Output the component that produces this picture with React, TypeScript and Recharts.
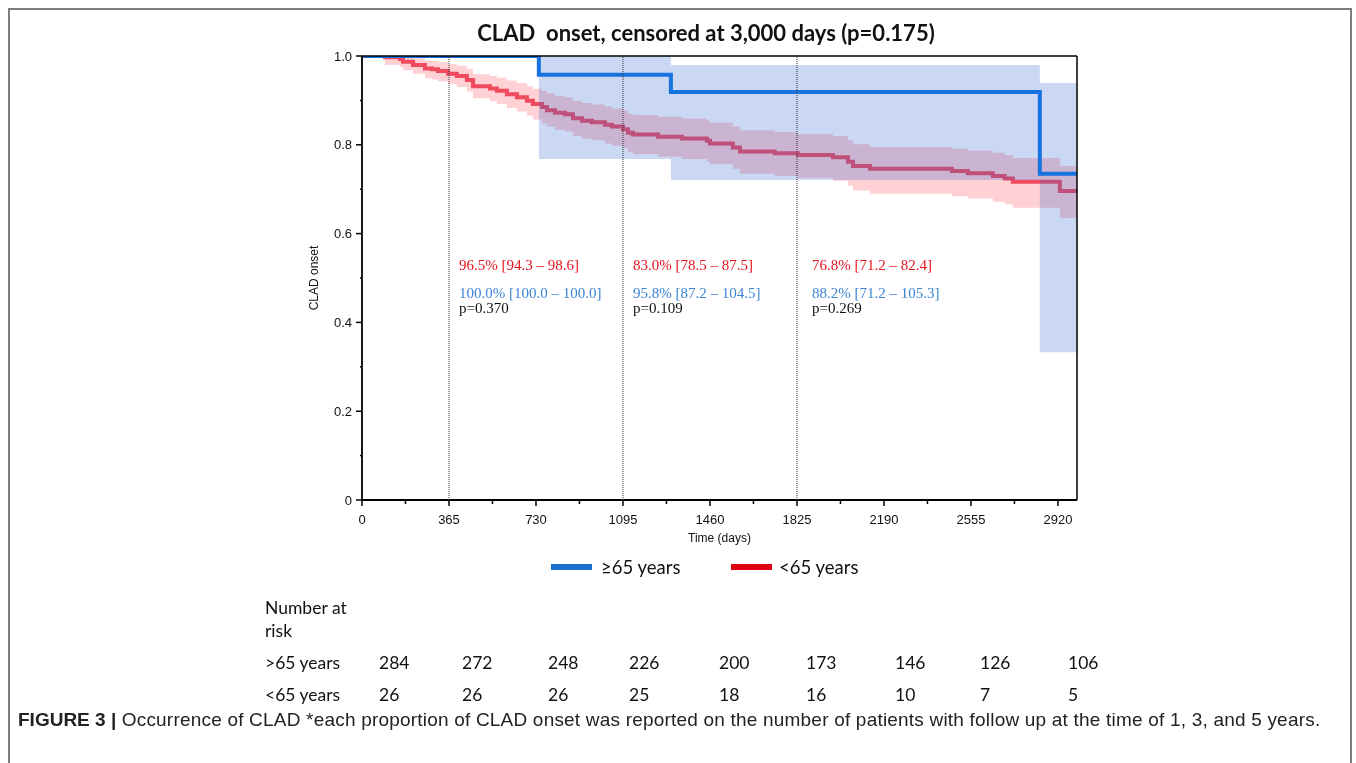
import React from "react";
import { ComposedChart, Line, Area, XAxis, YAxis, ReferenceLine } from "recharts";

// <65 years (red) Kaplan-Meier steps
const redTime = [0, 96, 159, 172, 214, 264, 294, 319, 361, 398, 440, 466, 537, 566, 608, 650, 692, 717, 755, 776, 810, 852, 885, 923, 965, 1019, 1049, 1095, 1116, 1137, 1242, 1342, 1447, 1460, 1556, 1586, 1732, 1829, 1976, 2039, 2060, 2131, 2475, 2542, 2647, 2697, 2731, 2928, 3000];
const redSurv = [1.0, 0.997, 0.993, 0.987, 0.98, 0.972, 0.97, 0.966, 0.96, 0.955, 0.946, 0.932, 0.927, 0.922, 0.914, 0.907, 0.899, 0.892, 0.885, 0.878, 0.872, 0.869, 0.86, 0.854, 0.851, 0.845, 0.841, 0.835, 0.827, 0.823, 0.818, 0.814, 0.809, 0.803, 0.794, 0.785, 0.781, 0.777, 0.772, 0.762, 0.752, 0.746, 0.741, 0.736, 0.73, 0.724, 0.717, 0.696, 0.696];
const redLo = [1.0, 0.98, 0.975, 0.968, 0.96, 0.95, 0.947, 0.943, 0.937, 0.93, 0.92, 0.905, 0.898, 0.892, 0.883, 0.875, 0.866, 0.857, 0.848, 0.841, 0.834, 0.83, 0.82, 0.814, 0.81, 0.803, 0.798, 0.792, 0.783, 0.779, 0.773, 0.768, 0.762, 0.756, 0.746, 0.735, 0.73, 0.725, 0.719, 0.708, 0.697, 0.69, 0.684, 0.679, 0.672, 0.666, 0.658, 0.635, 0.635];
const redHi = [1.0, 1.0, 1.0, 1.0, 0.995, 0.99, 0.989, 0.986, 0.982, 0.978, 0.971, 0.959, 0.955, 0.951, 0.945, 0.939, 0.932, 0.926, 0.922, 0.916, 0.91, 0.907, 0.899, 0.894, 0.891, 0.886, 0.882, 0.877, 0.87, 0.867, 0.863, 0.859, 0.855, 0.85, 0.841, 0.833, 0.829, 0.824, 0.82, 0.81, 0.801, 0.795, 0.791, 0.787, 0.782, 0.777, 0.77, 0.752, 0.752];

// >=65 years (blue)
const blueTime = [0, 742, 1296, 2844, 3000];
const blueSurv = [1.0, 0.958, 0.919, 0.735, 0.735];
const blueLo = [1.0, 0.768, 0.721, 0.333, 0.333];
const blueHi = [1.0, 1.0, 0.98, 0.939, 0.939];

const xTicks = [0, 182.5, 365, 547.5, 730, 912.5, 1095, 1277.5, 1460, 1642.5, 1825, 2007.5, 2190, 2372.5, 2555, 2737.5, 2920];
const yTicks = [0, 0.1, 0.2, 0.3, 0.4, 0.5, 0.6, 0.7, 0.8, 0.9, 1.0];

const annotDays = [365, 1095, 1825];
const annotRed = ["96.5% [94.3 – 98.6]", "83.0% [78.5 – 87.5]", "76.8% [71.2 – 82.4]"];
const annotBlue = ["100.0% [100.0 – 100.0]", "95.8% [87.2 – 104.5]", "88.2% [71.2 – 105.3]"];
const annotP = ["p=0.370", "p=0.109", "p=0.269"];

const riskGroups = [">65 years", "<65 years"];
const riskOver = [284, 272, 248, 226, 200, 173, 146, 126, 106];
const riskUnder = [26, 26, 26, 25, 18, 16, 10, 7, 5];

const red = redTime.map((t, i) => ({ t, s: redSurv[i], ci: [redLo[i], redHi[i]] }));
const blue = blueTime.map((t, i) => ({ t, s: blueSurv[i], ci: [blueLo[i], blueHi[i]] }));

const TICK_SIZE = 6;
const TICK_MARGIN = 6;
const SANS = "'Liberation Sans', Arial, sans-serif";
const CAL = "Lato, 'Open Sans', sans-serif";
const riskCols = [371, 454, 540, 621, 711, 798, 887, 972, 1060];
const annotDx = [10, 10, 15];

const XTick = (props: any) => {
  const { x, y, payload } = props;
  const axisY = y - TICK_SIZE - TICK_MARGIN;
  const major = payload.value % 365 === 0;
  return (
    <g>
      <line x1={x} x2={x} y1={axisY} y2={axisY + (major ? 6 : 4)} stroke="#000" strokeWidth={1.5} />
      {major && (
        <text x={x} y={y + 3} dy="0.71em" textAnchor="middle" fontSize={13} fontFamily={SANS} fill="#111">
          {payload.value}
        </text>
      )}
    </g>
  );
};

const YTick = (props: any) => {
  const { x, y, payload } = props;
  const axisX = x + TICK_SIZE + TICK_MARGIN;
  const v = payload.value;
  const major = Math.round(v * 10) % 2 === 0;
  return (
    <g>
      <line x1={axisX} x2={axisX - (major ? 6 : 2)} y1={y} y2={y} stroke="#000" strokeWidth={1.5} />
      {major && (
        <text x={axisX - 10} y={y} dy="0.355em" textAnchor="end" fontSize={13} fontFamily={SANS} fill="#111">
          {v === 0 ? "0" : v.toFixed(1)}
        </text>
      )}
    </g>
  );
};

const AnnLabel = (props: any) => {
  const { viewBox, i } = props;
  const x = viewBox.x + annotDx[i];
  const y = viewBox.y;
  const f = { fontFamily: "'Liberation Serif', 'Times New Roman', serif", fontSize: 15 };
  return (
    <g>
      <text x={x} y={y + 214} fill="#e8141f" style={f}>{annotRed[i]}</text>
      <text x={x} y={y + 242} fill="#3d85d6" style={f}>{annotBlue[i]}</text>
      <text x={x} y={y + 257} fill="#111" style={f}>{annotP[i]}</text>
    </g>
  );
};

const rowText = { position: "absolute" as const, transform: "translateY(-50%)", fontFamily: CAL, fontSize: 17.5, color: "#111", whiteSpace: "nowrap" as const };

export default function App() {
  return (
    <div style={{ position: "relative", width: 1344, height: 747, fontFamily: SANS }}>
      <div
        style={{
          position: "fixed", left: 8, top: 8, width: 1344, height: 780, boxSizing: "border-box",
          borderTop: "2px solid #7d7d7d", borderLeft: "2px solid #7d7d7d", borderRight: "2px solid #7d7d7d",
        }}
      />
      <div
        style={{
          position: "absolute", left: 698, top: 11, transform: "translateX(-50%)", whiteSpace: "nowrap",
          fontFamily: CAL, fontWeight: 700, fontSize: 22, color: "#111",
        }}
      >
        CLAD&nbsp; onset, censored at 3,000 days (p=0.175)
      </div>
      <div
        style={{
          position: "absolute", left: 306, top: 270, transform: "translate(-50%, -50%) rotate(-90deg)",
          whiteSpace: "nowrap", fontSize: 12, color: "#111",
        }}
      >
        CLAD onset
      </div>
      <div style={{ position: "absolute", left: 0, top: 0 }}>
        <ComposedChart width={1344} height={560} margin={{ top: 48, right: 275, bottom: 18, left: 294 }}>
          <XAxis
            dataKey="t" type="number" domain={[0, 3000]} ticks={xTicks} interval={0} height={50}
            tickLine={false} tickSize={TICK_SIZE} tickMargin={TICK_MARGIN} tick={<XTick />}
            axisLine={{ stroke: "#000", strokeWidth: 1.8 }} allowDataOverflow
            label={{ value: "Time (days)", position: "insideBottom", offset: 8, fontSize: 12, fill: "#111", fontFamily: SANS }}
          />
          <YAxis
            type="number" domain={[0, 1]} ticks={yTicks} interval={0} width={60}
            tickLine={false} tickSize={TICK_SIZE} tickMargin={TICK_MARGIN} tick={<YTick />}
            axisLine={{ stroke: "#000", strokeWidth: 1.8 }} allowDataOverflow
          />
          <Area data={red} dataKey="ci" type="stepAfter" stroke="none" fill="#ff4353" fillOpacity={0.25} isAnimationActive={false} zIndex={100} />
          <Line data={red} dataKey="s" type="stepAfter" stroke="#ef4a5e" strokeWidth={4} dot={false} activeDot={false} isAnimationActive={false} zIndex={200} />
          <Area data={blue} dataKey="ci" type="stepAfter" stroke="none" fill="#2b63cf" fillOpacity={0.25} isAnimationActive={false} zIndex={300} />
          <Line data={blue} dataKey="s" type="stepAfter" stroke="#1673e0" strokeWidth={4} dot={false} activeDot={false} isAnimationActive={false} zIndex={400} />
          {annotDays.map((d, i) => (
            <ReferenceLine key={d} x={d} stroke="#333" strokeWidth={1} strokeDasharray="1 1" label={<AnnLabel i={i} />} zIndex={500} />
          ))}
          <ReferenceLine y={1} stroke="#000" strokeWidth={1.5} zIndex={600} />
          <ReferenceLine x={3000} stroke="#000" strokeWidth={1.5} zIndex={600} />
        </ComposedChart>
      </div>
      {/* legend */}
      <div style={{ position: "absolute", left: 543, top: 556, width: 41, height: 6, background: "#1a70cc" }} />
      <div style={{ ...rowText, left: 593, top: 559, fontSize: 18.5 }}>≥65 years</div>
      <div style={{ position: "absolute", left: 723, top: 556, width: 41, height: 6, background: "#e1000f" }} />
      <div style={{ ...rowText, left: 771, top: 559, fontSize: 18.5 }}>&lt;65 years</div>
      {/* number at risk */}
      <div style={{ ...rowText, left: 257, top: 599 }}>Number at</div>
      <div style={{ ...rowText, left: 257, top: 622 }}>risk</div>
      {[riskOver, riskUnder].map((row, r) => (
        <React.Fragment key={r}>
          <div style={{ ...rowText, left: 257, top: 654 + r * 32 }}>{riskGroups[r]}</div>
          {row.map((n, c) => (
            <div key={c} style={{ ...rowText, left: riskCols[c], top: 654 + r * 32 }}>{n}</div>
          ))}
        </React.Fragment>
      ))}
      {/* caption */}
      <div style={{ position: "absolute", left: 10, top: 712, transform: "translateY(-50%)", fontSize: 19, letterSpacing: 0.2, color: "#222", whiteSpace: "nowrap" }}>
        <b style={{ letterSpacing: 0 }}>FIGURE 3 |</b> Occurrence of CLAD *each proportion of CLAD onset was reported on the number of patients with follow up at the time of 1, 3, and 5 years.
      </div>
    </div>
  );
}
